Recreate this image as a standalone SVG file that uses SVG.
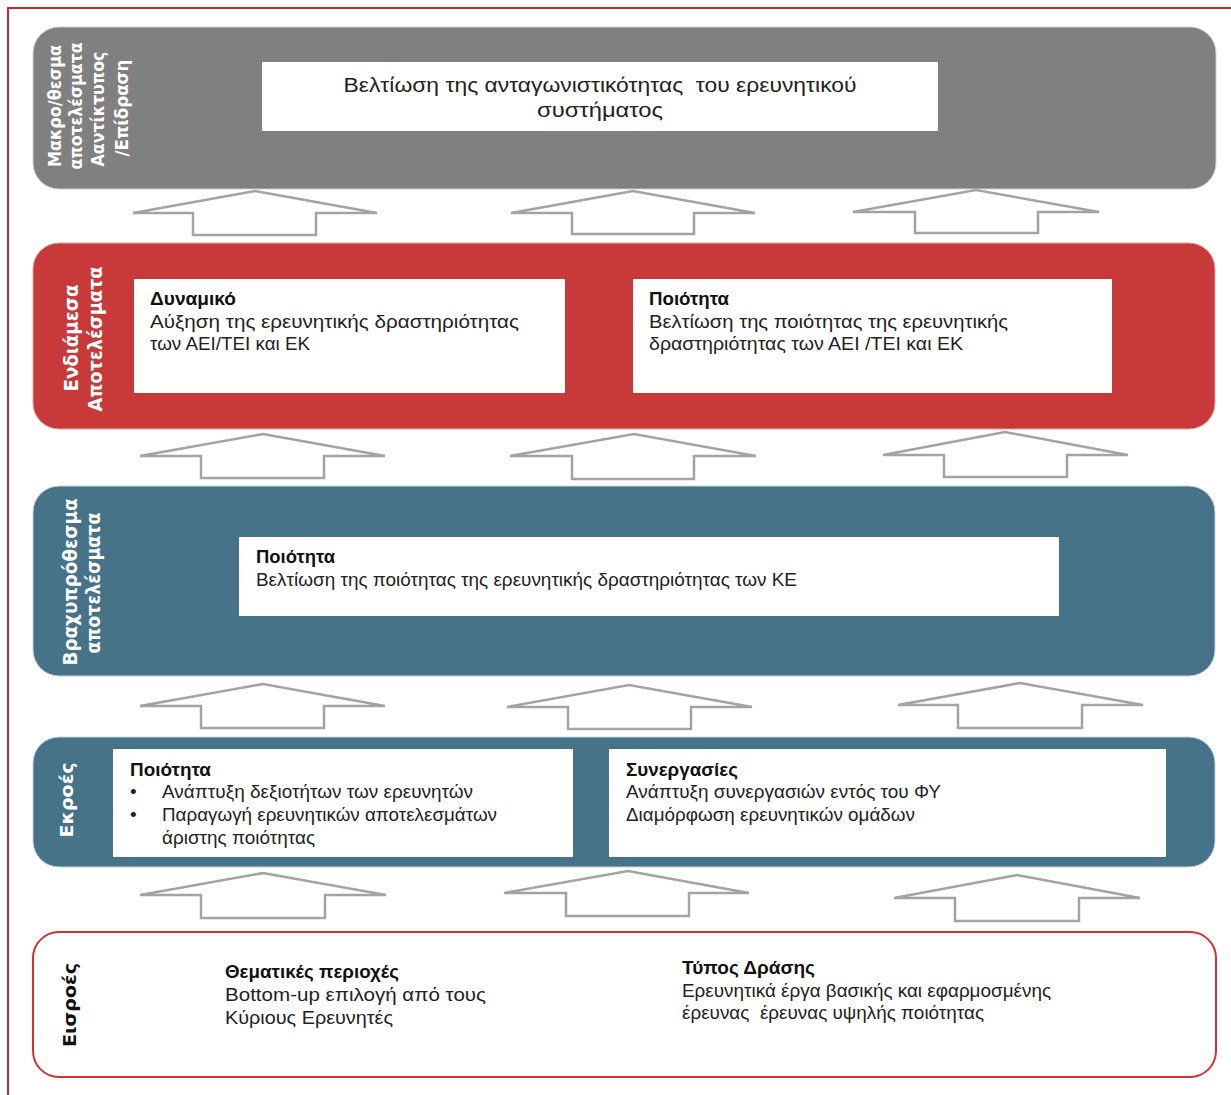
<svg xmlns="http://www.w3.org/2000/svg" width="1231" height="1095" viewBox="0 0 1231 1095">
<style>
.bg{fill:#ffffff}
.frame{fill:none;stroke:#c8282d;stroke-width:2}
.gray{fill:#808080;stroke:#d0d0d0;stroke-width:1}
.red{fill:#c83a3a;stroke:#e0a0a0;stroke-width:1}
.blue{fill:#477389;stroke:#c8d4da;stroke-width:1}
.inp{fill:#ffffff;stroke:#d43030;stroke-width:2}
.box{fill:#ffffff}
.arrow{fill:#ffffff;stroke:#a3a3a3;stroke-width:2.5}
.vl{font-family:"DejaVu Sans","Noto Sans",sans-serif;font-weight:bold;fill:#ffffff;text-anchor:middle}
.vlb{font-family:"DejaVu Sans","Noto Sans",sans-serif;font-weight:bold;fill:#111111;text-anchor:middle}
.t{font-family:"Liberation Sans","Arial",sans-serif;font-size:19px;fill:#222222}
.tb{font-family:"Liberation Sans","Arial",sans-serif;font-size:19px;font-weight:bold;fill:#111111}
.tc{font-family:"Liberation Sans","Arial",sans-serif;font-size:20px;fill:#222222;text-anchor:middle}
</style>
<rect class="bg" x="0" y="0" width="1231" height="1095"/>
<path class="frame" d="M8 1095 L8 8 L1231 8"/>

<g id="impact">
<rect class="gray" x="33" y="27" width="1183" height="162" rx="26"/>
<g class="vl" font-size="17">
<text transform="translate(61,106) rotate(-90)" textLength="122" lengthAdjust="spacingAndGlyphs">Μακρο/θεσμα</text>
<text transform="translate(82,106) rotate(-90)" textLength="127" lengthAdjust="spacingAndGlyphs">αποτελέσματα</text>
<text transform="translate(104,109) rotate(-90)" textLength="115" lengthAdjust="spacingAndGlyphs">Ααντίκτυπος</text>
<text transform="translate(128,108) rotate(-90)" textLength="97" lengthAdjust="spacingAndGlyphs">/Επίδραση</text>
</g>
<rect class="box" x="262" y="62" width="676" height="69"/>
<text class="tc" x="600" y="92" xml:space="preserve" textLength="513" lengthAdjust="spacingAndGlyphs">Βελτίωση της ανταγωνιστικότητας  του ερευνητικού</text>
<text class="tc" x="600" y="117" textLength="126" lengthAdjust="spacingAndGlyphs">συστήματος</text>
</g>

<g id="intermediate">
<rect class="red" x="33" y="243" width="1182" height="186" rx="26"/>
<g class="vl" font-size="19">
<text transform="translate(78,338) rotate(-90)" textLength="107" lengthAdjust="spacingAndGlyphs">Ενδιάμεσα</text>
<text transform="translate(102,339) rotate(-90)" textLength="145" lengthAdjust="spacingAndGlyphs">Αποτελέσματα</text>
</g>
<rect class="box" x="134" y="279" width="431" height="114"/>
<text class="tb" x="150" y="305" textLength="86" lengthAdjust="spacingAndGlyphs">Δυναμικό</text>
<text class="t" x="150" y="328" textLength="369" lengthAdjust="spacingAndGlyphs">Αύξηση της ερευνητικής δραστηριότητας</text>
<text class="t" x="150" y="350" textLength="160" lengthAdjust="spacingAndGlyphs">των ΑΕΙ/ΤΕΙ και ΕΚ</text>
<rect class="box" x="633" y="279" width="479" height="114"/>
<text class="tb" x="649" y="305" textLength="80" lengthAdjust="spacingAndGlyphs">Ποιότητα</text>
<text class="t" x="649" y="328" textLength="359" lengthAdjust="spacingAndGlyphs">Βελτίωση της ποιότητας της ερευνητικής</text>
<text class="t" x="649" y="350" textLength="314" lengthAdjust="spacingAndGlyphs">δραστηριότητας των ΑΕΙ /ΤΕΙ και ΕΚ</text>
</g>

<g id="shortterm">
<rect class="blue" x="33" y="486" width="1182" height="190" rx="26"/>
<g class="vl" font-size="19">
<text transform="translate(77,582) rotate(-90)" textLength="167" lengthAdjust="spacingAndGlyphs">Βραχυπρόθεσμα</text>
<text transform="translate(100,583) rotate(-90)" textLength="141" lengthAdjust="spacingAndGlyphs">αποτελέσματα</text>
</g>
<rect class="box" x="239" y="537" width="820" height="79"/>
<text class="tb" x="256" y="563" textLength="79" lengthAdjust="spacingAndGlyphs">Ποιότητα</text>
<text class="t" x="256" y="586" textLength="541" lengthAdjust="spacingAndGlyphs">Βελτίωση της ποιότητας της ερευνητικής δραστηριότητας των ΚΕ</text>
</g>

<g id="outputs">
<rect class="blue" x="33" y="737" width="1182" height="130" rx="26"/>
<text class="vl" font-size="17" transform="translate(73,800) rotate(-90)" textLength="75" lengthAdjust="spacingAndGlyphs">Εκροές</text>
<rect class="box" x="113" y="749" width="460" height="108"/>
<text class="tb" x="130" y="776" textLength="81" lengthAdjust="spacingAndGlyphs">Ποιότητα</text>
<text class="t" x="130" y="798">•</text>
<text class="t" x="162" y="798" textLength="311" lengthAdjust="spacingAndGlyphs">Ανάπτυξη δεξιοτήτων των ερευνητών</text>
<text class="t" x="130" y="821">•</text>
<text class="t" x="162" y="821" textLength="335" lengthAdjust="spacingAndGlyphs">Παραγωγή ερευνητικών αποτελεσμάτων</text>
<text class="t" x="162" y="844" textLength="153" lengthAdjust="spacingAndGlyphs">άριστης ποιότητας</text>
<rect class="box" x="609" y="749" width="557" height="108"/>
<text class="tb" x="626" y="776" textLength="112" lengthAdjust="spacingAndGlyphs">Συνεργασίες</text>
<text class="t" x="626" y="798" textLength="315" lengthAdjust="spacingAndGlyphs">Ανάπτυξη συνεργασιών εντός του ΦΥ</text>
<text class="t" x="626" y="821" textLength="289" lengthAdjust="spacingAndGlyphs">Διαμόρφωση ερευνητικών ομάδων</text>
</g>

<g id="inputs">
<rect class="inp" x="33" y="932" width="1183" height="145" rx="26"/>
<text class="vlb" font-size="17" transform="translate(76,1005) rotate(-90)" textLength="84" lengthAdjust="spacingAndGlyphs">Εισροές</text>
<text class="tb" x="225" y="978" textLength="174" lengthAdjust="spacingAndGlyphs">Θεματικές περιοχές</text>
<text class="t" x="225" y="1001" textLength="261" lengthAdjust="spacingAndGlyphs">Bottom-up επιλογή από τους</text>
<text class="t" x="225" y="1024" textLength="168" lengthAdjust="spacingAndGlyphs">Κύριους Ερευνητές</text>
<text class="tb" x="682" y="974" textLength="133" lengthAdjust="spacingAndGlyphs">Τύπος Δράσης</text>
<text class="t" x="682" y="997" textLength="369" lengthAdjust="spacingAndGlyphs">Ερευνητικά έργα βασικής και εφαρμοσμένης</text>
<text class="t" x="682" y="1019" xml:space="preserve" textLength="302" lengthAdjust="spacingAndGlyphs">έρευνας  έρευνας υψηλής ποιότητας</text>
</g>

<g id="connectors">
<path class="arrow" d="M133 213 L255 191 L377 213 L316 213 L316 235 L193 235 L193 213 Z"/>
<path class="arrow" d="M511 213 L633 191 L755 213 L694 213 L694 234 L572 234 L572 213 Z"/>
<path class="arrow" d="M853 212 L976 190 L1099 212 L1038 212 L1038 233 L915 233 L915 212 Z"/>
<path class="arrow" d="M140 456 L263 434 L385 456 L324 456 L324 478 L201 478 L201 456 Z"/>
<path class="arrow" d="M510 456 L634 434 L756 456 L694 456 L694 479 L572 479 L572 456 Z"/>
<path class="arrow" d="M883 455 L1005 432 L1128 455 L1067 455 L1067 477 L944 477 L944 455 Z"/>
<path class="arrow" d="M140 706 L263 684 L385 706 L324 706 L324 728 L201 728 L201 706 Z"/>
<path class="arrow" d="M507 707 L629 685 L752 707 L691 707 L691 729 L568 729 L568 707 Z"/>
<path class="arrow" d="M898 705 L1020 683 L1143 705 L1082 705 L1082 728 L958 728 L958 705 Z"/>
<path class="arrow" d="M140 895 L263 873 L386 895 L325 895 L325 918 L201 918 L201 895 Z"/>
<path class="arrow" d="M504 893 L628 871 L749 893 L689 893 L689 916 L566 916 L566 893 Z"/>
<path class="arrow" d="M894 898 L1017 875 L1140 898 L1079 898 L1079 921 L955 921 L955 898 Z"/>
</g>
</svg>
